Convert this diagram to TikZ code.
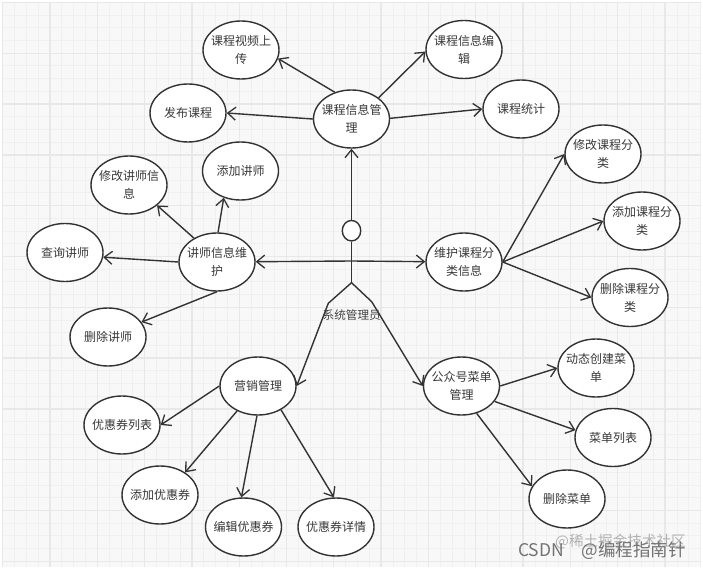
\documentclass[tikz,border=0pt]{standalone}
\usepackage{fontspec}
\setmainfont{Noto Sans CJK SC}
\usetikzlibrary{shapes.geometric,arrows.meta}
\definecolor{papier}{HTML}{F8F8F8}
\definecolor{fin}{HTML}{F0F0F0}
\definecolor{gros}{HTML}{E8E8E8}
\definecolor{trait}{HTML}{333333}
\begin{document}
\begin{tikzpicture}  % ------ Cas d'utilisation du systeme --------------
      [x=1pt,y=-1pt,
       uc/.style={ellipse,draw=trait,fill=white,line width=1.4pt,minimum width=76pt,minimum height=58pt,inner xsep=-14pt,inner ysep=-4pt,align=center,text=black!78,font=\fontsize{12}{18}\selectfont},
       fl/.style={draw=trait,line width=1.4pt,-{Straight Barb[length=8pt,width=13pt,line width=1.3pt]}},
       grille/.style={fin,line width=1pt}]

    \useasboundingbox (0,0) rectangle (703,569);
    \fill[papier] (2.5,2.5) rectangle (701,567);

    % le quadrillage
    \foreach \i in {0,...,59} \draw[grille] ({2.7+11.83*\i},2.5) -- ({2.7+11.83*\i},567);
    \foreach \j in {0,...,44} \draw[grille] (2.5,{2.5+12.7*\j}) -- (701,{2.5+12.7*\j});
    \foreach \i in {0,...,14} \draw[gros,line width=1.3pt] ({2.7+47.3*\i},2.5) -- ({2.7+47.3*\i},567);
    \foreach \j in {0,...,11} \draw[gros,line width=1.3pt] (2.5,{2.5+50.8*\j}) -- (701,{2.5+50.8*\j});

    \node[uc] (CV) at (241,50) {课程视频上\\传};
    \node[uc] (CF) at (188,113) {发布课程};
    \node[uc] (CM) at (351.5,119) {课程信息管\\理};
    \node[uc] (CE) at (464,49.5) {课程信息编\\辑};
    \node[uc] (CS) at (521,109) {课程统计};

    \node[uc] (TM) at (129,185) {修改讲师信\\息};
    \node[uc] (TA) at (240.5,171) {添加讲师};
    \node[uc] (TQ) at (65,252.5) {查询讲师};
    \node[uc] (TW) at (217,262) {讲师信息维\\护};
    \node[uc] (TD) at (108,337) {删除讲师};

    \node[uc] (FW) at (464,262) {维护课程分\\类信息};
    \node[uc] (FM) at (603,154) {修改课程分\\类};
    \node[uc] (FA) at (642,221) {添加课程分\\类};
    \node[uc] (FD) at (630,297.5) {删除课程分\\类};

    \node[uc] (YX) at (258,386) {营销管理};
    \node[uc] (YL) at (122,425) {优惠券列表};
    \node[uc] (YA) at (160,495) {添加优惠券};
    \node[uc] (YE) at (243.5,527) {编辑优惠券};
    \node[uc] (YD) at (336,527) {优惠券详情};

    \node[uc] (GZ) at (461.5,386) {公众号菜单\\管理};
    \node[uc] (GC) at (596,368) {动态创建菜\\单};
    \node[uc] (GL) at (613,437.5) {菜单列表};
    \node[uc] (GD) at (567,499) {删除菜单};

    % le bonhomme
    \node[ellipse,draw=trait,fill=white,line width=1.4pt,minimum width=18.5pt,minimum height=20.5pt,inner sep=0pt] (H) at (351.5,230.7) {};
    \coordinate (N) at (351.5,261);
    \coordinate (B) at (351.5,282.7);
    \coordinate (G1) at (328.3,303.3);
    \coordinate (G2) at (371.7,301.7);
    \draw[draw=trait,line width=1.4pt] (H) -- (B);
    \draw[fl] (H) -- (CM);
    \draw[fl] (N) -- (TW);
    \draw[fl] (N) -- (FW);
    \draw[fl] (B) -- (G1) -- (YX.east);
    \draw[fl] (B) -- (G2) -- (GZ.west);
    \node[text=black!75,font=\fontsize{11.6}{14}\selectfont] (SA) at (351.7,315.5) {系统管理员};

    \foreach \a/\b in {CM.122/CV.-13,CM.180/CF.0,CM.38/CE.-177,CM.1/CS.180,
                       TW.134/TM.-36,TW.88/TA.-122,TW.180/TQ.-7,TW.-90/TD.24,
                       FW.0/FM.180,FW.0/FA.180,FW.0/FD.180,
                       YX.180/YL.0,YX.-130/YA.42,YX.-92/YE.94,YX.-46/YD.94,
                       GZ.0/GC.180,GZ.-25/GL.169,GZ.-61/GD.160}
      \draw[fl] (\a) -- (\b);

    \node[text=black!30,font=\fontsize{14.6}{16}\selectfont,anchor=east,inner sep=0pt] (W1) at (686,542) {@稀土掘金技术社区};
    \node[text=black!55,font=\fontsize{17.5}{18}\selectfont,anchor=east,inner sep=0pt] (W2) at (686,551) {CSDN\hspace{14pt} @编程指南针};
\end{tikzpicture}
\end{document}
